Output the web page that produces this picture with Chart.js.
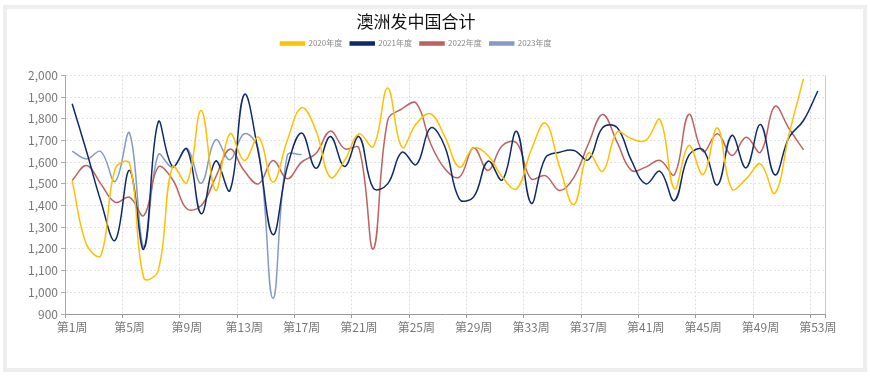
<!DOCTYPE html>
<html>
<head>
<meta charset="utf-8">
<script src="https://cdn.jsdelivr.net/npm/chart.js@4/dist/chart.umd.min.js"></script>
<style>
  body { margin: 0; background: #fff; }
  #box {
    position: absolute; left: 3px; top: 5px;
    width: 856px; height: 359px;
    border: 4px solid #eeeeee;
  }
</style>
</head>
<body>
<div id="box"><canvas id="chart"></canvas></div>
<script>
const weeks = ['第1周','第2周','第3周','第4周','第5周','第6周','第7周','第8周','第9周','第10周',
  '第11周','第12周','第13周','第14周','第15周','第16周','第17周','第18周','第19周','第20周',
  '第21周','第22周','第23周','第24周','第25周','第26周','第27周','第28周','第29周','第30周',
  '第31周','第32周','第33周','第34周','第35周','第36周','第37周','第38周','第39周','第40周',
  '第41周','第42周','第43周','第44周','第45周','第46周','第47周','第48周','第49周','第50周',
  '第51周','第52周','第53周'];

const y2020 = [1515, 1220, 1170, 1570, 1595, 1065, 1100, 1580, 1505, 1838,
  1470, 1731, 1608, 1715, 1508, 1700, 1851, 1746, 1530, 1608,
  1731, 1672, 1942, 1669, 1777, 1823, 1715, 1577, 1666, 1631,
  1531, 1477, 1654, 1780, 1577, 1405, 1642, 1558, 1738, 1708,
  1700, 1795, 1477, 1677, 1543, 1758, 1477, 1523, 1592, 1457,
  1731, 1985];

const y2021 = [1869, 1650, 1420, 1240, 1562, 1200, 1785, 1580, 1660, 1362,
  1605, 1469, 1912, 1638, 1266, 1577, 1734, 1572, 1718, 1580,
  1718, 1480, 1500, 1646, 1589, 1758, 1670, 1430, 1440, 1605,
  1518, 1742, 1411, 1620, 1646, 1654, 1611, 1760, 1760, 1608,
  1500, 1558, 1423, 1631, 1657, 1495, 1723, 1574, 1774, 1542,
  1715, 1792, 1928];

const y2022 = [1515, 1585, 1500, 1415, 1438, 1354, 1577, 1520, 1385, 1400,
  1530, 1660, 1560, 1500, 1608, 1523, 1600, 1640, 1743, 1662,
  1665, 1200, 1792, 1846, 1872, 1685, 1569, 1531, 1666, 1562,
  1677, 1688, 1523, 1538, 1469, 1531, 1685, 1820, 1692, 1562,
  1577, 1608, 1543, 1820, 1649, 1731, 1631, 1715, 1646, 1857,
  1754, 1657];

const y2023 = [1651, 1615, 1649, 1511, 1734, 1208, 1634, 1577, 1663, 1503,
  1703, 1611, 1731, 1654, 972, 1631, 1635];

const seriesNames = ['2020年度', '2021年度', '2022年度', '2023年度'];
const seriesColors = ['#FFC000', '#0E2A6B', '#BC6262', '#8599C2'];
const seriesData = [y2020, y2021, y2022, y2023];

Chart.defaults.font.family = "'Noto Sans CJK SC', 'Noto Sans', sans-serif";

let datasets = [];
for (let i = 0; i < seriesData.length; i++) {
    datasets.push({
        label: seriesNames[i],
        data: seriesData[i],
        borderColor: seriesColors[i],
        backgroundColor: seriesColors[i],
        borderWidth: 1.5,
        pointRadius: 0,
        tension: 0.4,
        fill: false
    });
}

const ctx = document.getElementById('chart').getContext('2d');
const chart = new Chart(ctx, {
    type: 'line',
    data: { labels: weeks, datasets: datasets },
    options: {
        responsive: true,
        maintainAspectRatio: false,
        animation: false,
        layout: { padding: { top: 0, right: 38, bottom: 0, left: 0 } },
        plugins: {
            title: {
                display: true,
                text: '澳洲发中国合计',
                color: '#111',
                font: { size: 17, weight: 'normal' },
                padding: { top: 2, bottom: 0 }
            },
            // empty spacer below the legend
            subtitle: {
                display: true,
                text: ' ',
                weight: 500,
                font: { size: 10 },
                padding: { top: 3, bottom: 3 }
            },
            legend: {
                labels: {
                    boxWidth: 24,
                    boxHeight: 3,
                    padding: 8,
                    color: '#888',
                    font: { size: 8 }
                }
            },
            tooltip: { enabled: false }
        },
        scales: {
            x: {
                offset: true,
                afterFit: function (scale) { scale.height = 54; },
                grid: {
                    offset: true,
                    color: c => c.index === undefined ? '#cccccc' : (c.index % 4 === 0 ? '#dddddd' : 'rgba(0,0,0,0)'),
                    tickColor: c => c.index === undefined ? '#999' : (c.index % 4 === 0 ? '#999' : 'rgba(0,0,0,0)'),
                    tickLength: 4
                },
                border: {
                    color: '#999',
                    dash: c => c.index === undefined ? [] : [2, 2]
                },
                ticks: {
                    autoSkip: false,
                    maxRotation: 0,
                    color: '#777',
                    font: { size: 12 },
                    padding: 2,
                    callback: function (v, i) { return i % 4 === 0 ? weeks[i] : ''; }
                }
            },
            y: {
                min: 900,
                max: 2000,
                afterFit: function (scale) { scale.width = 58; },
                grid: { color: '#e3e3e3', tickColor: '#aaa', tickLength: 4 },
                border: { color: '#aaa', dash: [2, 2] },
                ticks: {
                    stepSize: 100,
                    color: '#777',
                    font: { size: 12 },
                    padding: 3,
                    callback: function (v) { return v.toLocaleString('en-US'); }
                }
            }
        }
    }
});
</script>
</body>
</html>
